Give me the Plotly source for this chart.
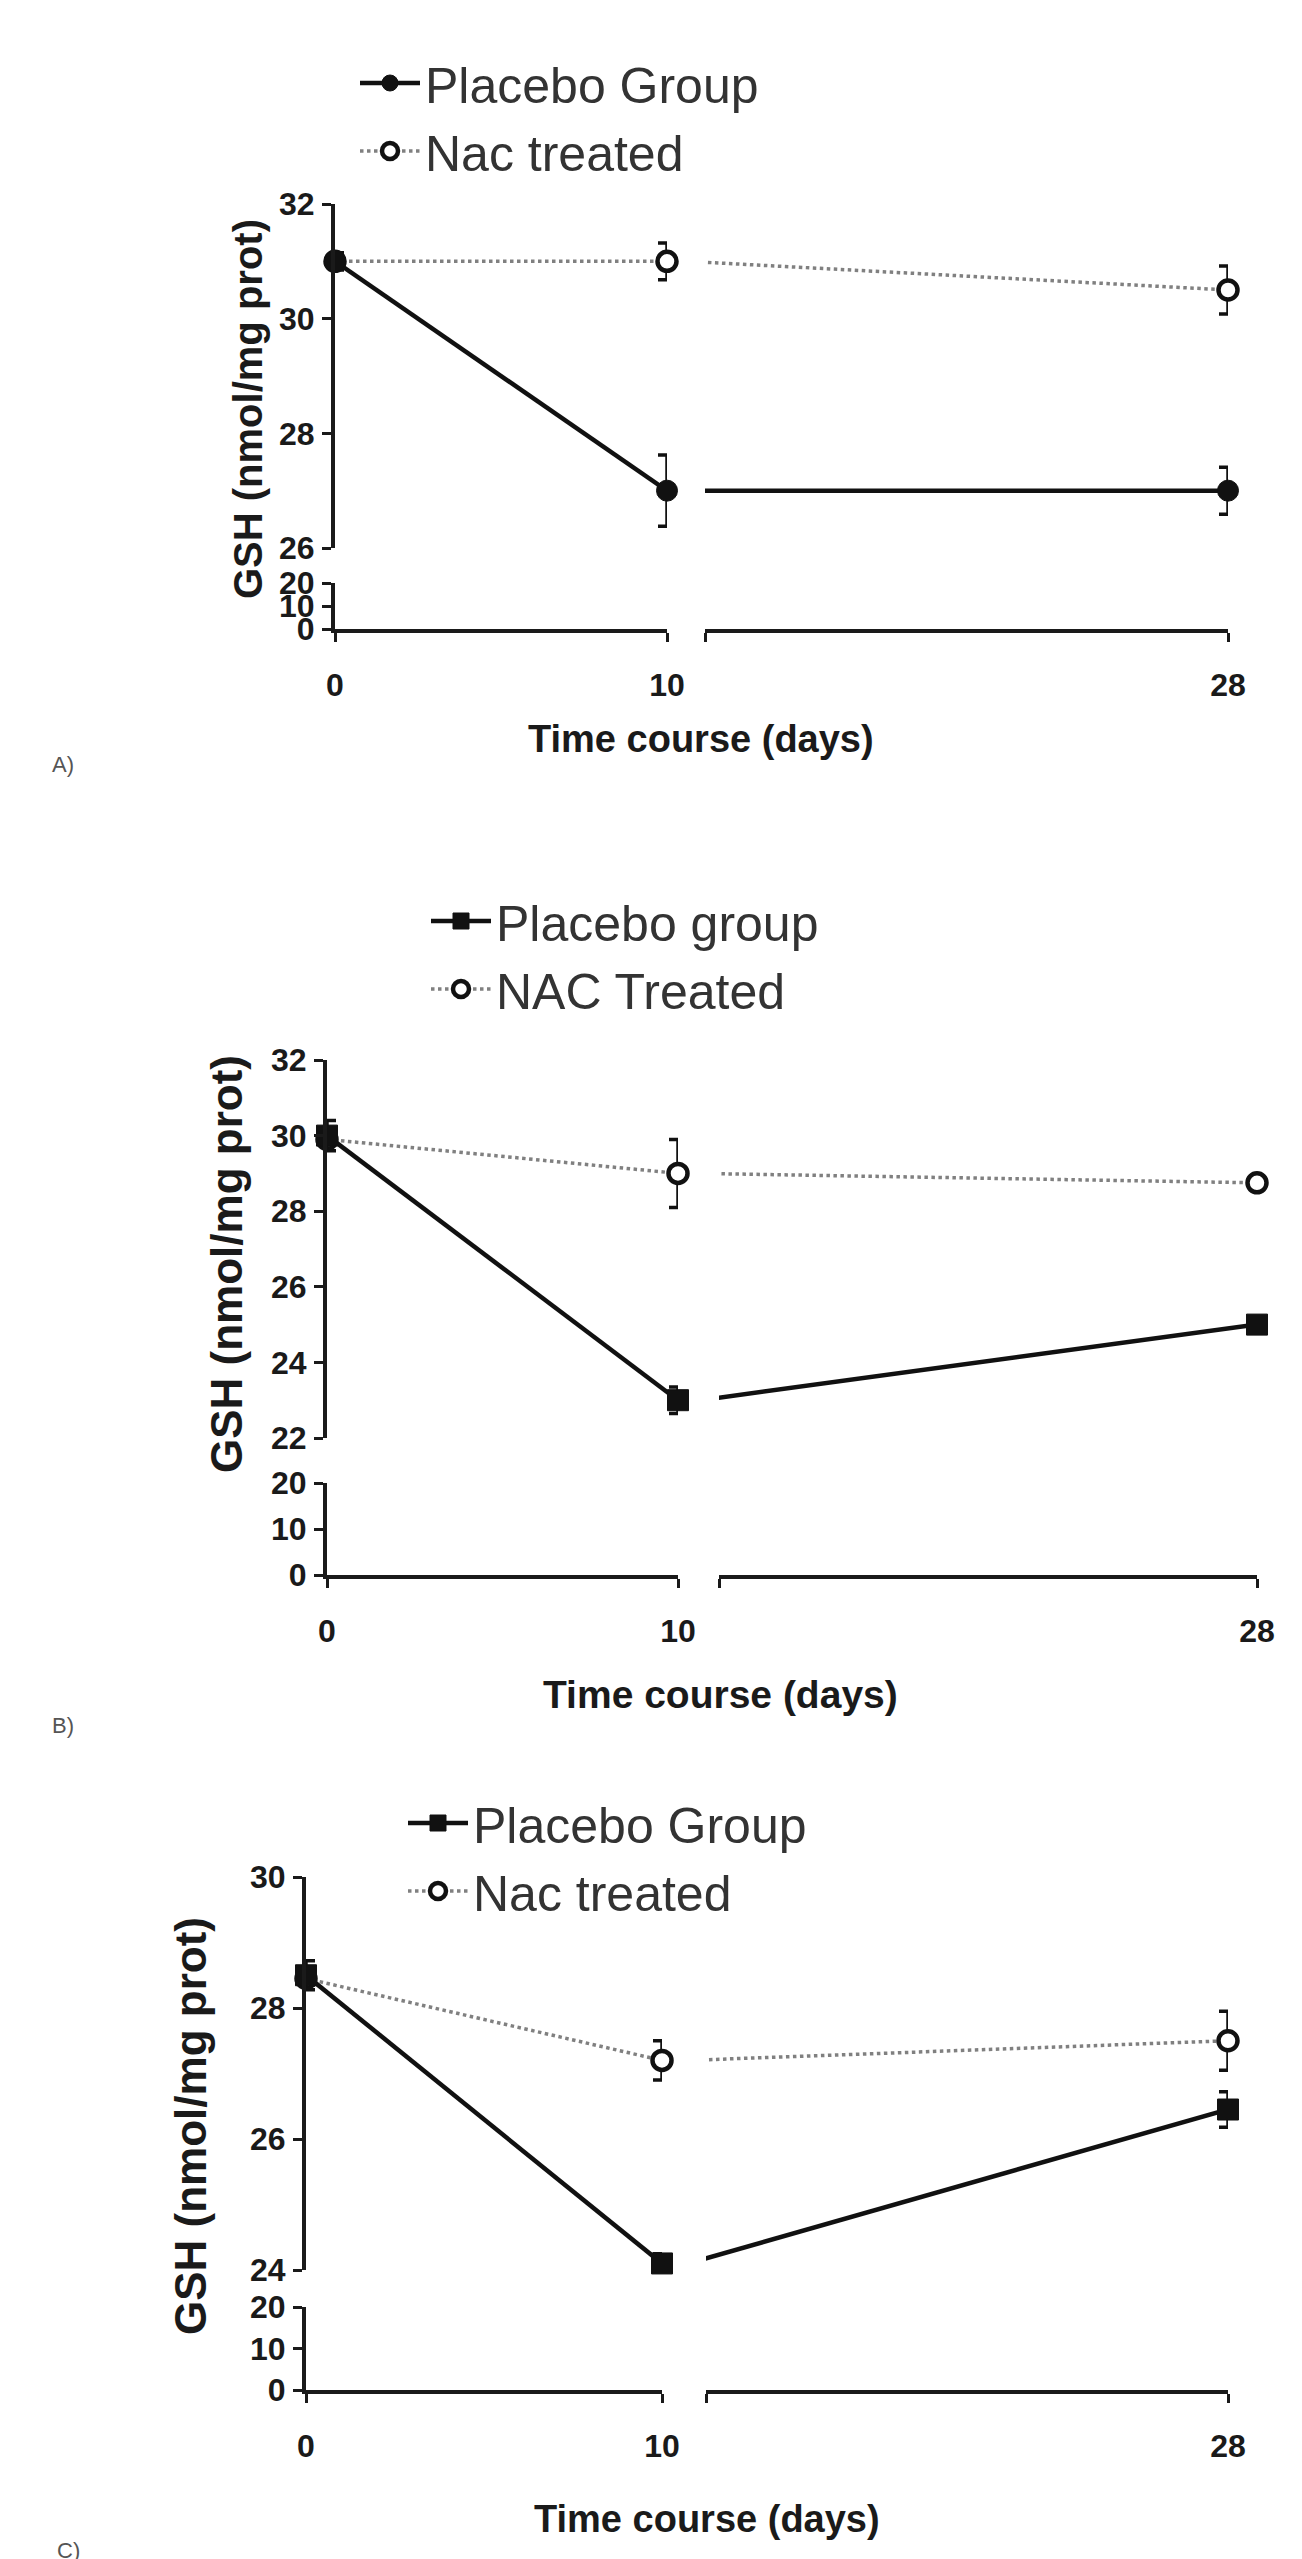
import plotly.graph_objects as go

# ---------------- data ----------------
days = [0, 10, 28]
x_tick_labels = ["0", "10", "28"]

# Panel A
placebo_A = [31.0, 27.0, 27.0]
placebo_A_err = [0.15, 0.62, 0.41]
nac_A = [31.0, 31.0, 30.5]
nac_A_err = [0.10, 0.32, 0.42]

# Panel B
placebo_B = [30.0, 23.0, 25.0]
placebo_B_err = [0.40, 0.35, 0.12]
nac_B = [29.9, 29.0, 28.75]
nac_B_err = [0.10, 0.90, 0.12]

# Panel C
placebo_C = [28.5, 24.1, 26.45]
placebo_C_err = [0.22, 0.15, 0.27]
nac_C = [28.45, 27.2, 27.5]
nac_C_err = [0.10, 0.30, 0.45]

legend_A = ["Placebo Group", "Nac treated"]
legend_B = ["Placebo group", "NAC Treated"]
legend_C = ["Placebo Group", "Nac treated"]

upper_ticks_A = [26, 28, 30, 32]
upper_ticks_B = [22, 24, 26, 28, 30, 32]
upper_ticks_C = [24, 26, 28, 30]
lower_ticks = [0, 10, 20]

x_title = "Time course (days)"
y_title = "GSH (nmol/mg prot)"
panel_letters = ["A)", "B)", "C)"]

# ---------------- layout geometry (pixels) ----------------
W, H = 1302, 2559
FONT = "Liberation Sans, Arial, sans-serif"
INK = "#1a1a1a"

panels = [
    dict(placebo=placebo_A, perr=placebo_A_err, nac=nac_A, nerr=nac_A_err,
         names=legend_A, uticks=upper_ticks_A, psym="circle",
         xl0=327, xl1=659, xr0=697, xr1=1220,
         yu_top=196, yu_bot=540, yl_top=575, yl_bot=621,
         leg_x=347, leg_y=36, xt_x=693, xt_y=731, xt_size=38,
         yt_x=240, yt_y=401, yt_size=40,
         let_x=55, let_y=757),
    dict(placebo=placebo_B, perr=placebo_B_err, nac=nac_B, nerr=nac_B_err,
         names=legend_B, uticks=upper_ticks_B, psym="square",
         xl0=319, xl1=670, xr0=711, xr1=1249,
         yu_top=1052, yu_bot=1430, yl_top=1475, yl_bot=1567,
         leg_x=418, leg_y=874, xt_x=712, xt_y=1686, xt_size=39,
         yt_x=218, yt_y=1256, yt_size=44,
         let_x=55, let_y=1717),
    dict(placebo=placebo_C, perr=placebo_C_err, nac=nac_C, nerr=nac_C_err,
         names=legend_C, uticks=upper_ticks_C, psym="square",
         xl0=298, xl1=654, xr0=698, xr1=1220,
         yu_top=1869, yu_bot=2262, yl_top=2299, yl_bot=2382,
         leg_x=395, leg_y=1776, xt_x=699, xt_y=2511, xt_size=38,
         yt_x=182, yt_y=2118, yt_size=44,
         let_x=60, let_y=2542),
]

RIGHT_START = 10.6  # first value of the right-hand x segment (axis break)


def fx(px):
    return px / W


def fy(py):
    return 1 - py / H


def nm(k, n):
    return k if n == 1 else f"{k}{n}"


fig = go.Figure()
layout = dict(
    width=W, height=H, margin=dict(l=0, r=0, t=0, b=0),
    paper_bgcolor="white", plot_bgcolor="rgba(0,0,0,0)",
    showlegend=True, annotations=[],
)

axis_common = dict(showgrid=False, zeroline=False, showline=True, linecolor=INK,
                   linewidth=4, ticks="outside", ticklen=9, tickwidth=3,
                   tickcolor=INK, automargin=False,
                   tickfont=dict(family=FONT, size=32, color=INK, weight="bold"))

for i, p in enumerate(panels):
    xl, xr = 2 * i + 1, 2 * i + 2
    yu, yl = 2 * i + 1, 2 * i + 2
    legname = "legend" if i == 0 else f"legend{i + 1}"

    umin, umax = p["uticks"][0], p["uticks"][-1]

    layout[nm("xaxis", xl)] = dict(
        axis_common, domain=[fx(p["xl0"]), fx(p["xl1"])], range=[0, 10],
        anchor=nm("y", yl), tickvals=days[:2], ticktext=x_tick_labels[:2],
        ticklabelstandoff=16)
    layout[nm("xaxis", xr)] = dict(
        axis_common, domain=[fx(p["xr0"]), fx(p["xr1"])], range=[RIGHT_START, 28],
        anchor=nm("y", yl), tickvals=[RIGHT_START, days[2]],
        ticktext=["", x_tick_labels[2]], ticklabelstandoff=16)
    layout[nm("yaxis", yu)] = dict(
        axis_common, domain=[fy(p["yu_bot"]), fy(p["yu_top"])], range=[umin, umax],
        anchor=nm("x", xl), tickvals=p["uticks"], ticklabelstandoff=1)
    layout[nm("yaxis", yl)] = dict(
        axis_common, domain=[fy(p["yl_bot"]), fy(p["yl_top"])],
        range=[lower_ticks[0], lower_ticks[-1]],
        anchor=nm("x", xl), tickvals=lower_ticks, ticklabelstandoff=1)

    xa_l, xa_r, ya_u, ya_l = nm("x", xl), nm("x", xr), nm("y", yu), nm("y", yl)

    # invisible helpers so that the lower (0-20) subplots exist and get drawn
    for xa in (xa_l, xa_r):
        fig.add_trace(go.Scatter(
            x=[days[1]], y=[lower_ticks[1]], mode="markers",
            marker=dict(opacity=0, size=1), xaxis=xa, yaxis=ya_l,
            showlegend=False, hoverinfo="skip"))

    nac_line = dict(color="#808080", width=3.5, dash="dot")
    nac_marker = dict(symbol="circle", size=19, color="white",
                      line=dict(color="#111", width=4.5))
    pl_line = dict(color="#111", width=4.5)
    pl_marker = dict(symbol=p["psym"], size=21, color="#111",
                     line=dict(color="#111", width=1))
    err_style = dict(type="data", visible=True, color="#111", thickness=3.5, width=9)

    # NAC treated (drawn first, under placebo)
    fig.add_trace(go.Scatter(
        x=days[:2], y=p["nac"][:2], mode="lines+markers", name=p["names"][1],
        line=nac_line, marker=nac_marker, cliponaxis=False,
        error_y=dict(err_style, array=p["nerr"][:2]),
        xaxis=xa_l, yaxis=ya_u, legend=legname, legendrank=2, showlegend=True))
    fig.add_trace(go.Scatter(
        x=days[1:], y=p["nac"][1:], mode="lines", line=nac_line,
        xaxis=xa_r, yaxis=ya_u, showlegend=False, hoverinfo="skip"))
    fig.add_trace(go.Scatter(
        x=days[2:], y=p["nac"][2:], mode="markers", marker=nac_marker,
        cliponaxis=False, error_y=dict(err_style, array=p["nerr"][2:]),
        xaxis=xa_r, yaxis=ya_u, showlegend=False))

    # Placebo
    fig.add_trace(go.Scatter(
        x=days[:2], y=p["placebo"][:2], mode="lines+markers", name=p["names"][0],
        line=pl_line, marker=pl_marker, cliponaxis=False,
        error_y=dict(err_style, array=p["perr"][:2]),
        xaxis=xa_l, yaxis=ya_u, legend=legname, legendrank=1, showlegend=True))
    fig.add_trace(go.Scatter(
        x=days[1:], y=p["placebo"][1:], mode="lines", line=pl_line,
        xaxis=xa_r, yaxis=ya_u, showlegend=False, hoverinfo="skip"))
    fig.add_trace(go.Scatter(
        x=days[2:], y=p["placebo"][2:], mode="markers", marker=pl_marker,
        cliponaxis=False, error_y=dict(err_style, array=p["perr"][2:]),
        xaxis=xa_r, yaxis=ya_u, showlegend=False))

    layout[legname] = dict(
        x=fx(p["leg_x"]), y=fy(p["leg_y"]), xanchor="left", yanchor="top",
        bgcolor="rgba(0,0,0,0)", borderwidth=0, itemwidth=60,
        font=dict(family=FONT, size=50, color="#333"),
        traceorder="normal", tracegroupgap=0)

    layout["annotations"] += [
        dict(text=f"<b>{x_title}</b>", x=fx(p["xt_x"]), y=fy(p["xt_y"]),
             xref="paper", yref="paper", showarrow=False, xanchor="center",
             yanchor="middle", font=dict(family=FONT, size=p["xt_size"], color=INK)),
        dict(text=f"<b>{y_title}</b>", x=fx(p["yt_x"]), y=fy(p["yt_y"]),
             xref="paper", yref="paper", showarrow=False, xanchor="center",
             yanchor="middle", textangle=-90,
             font=dict(family=FONT, size=p["yt_size"], color=INK)),
        dict(text=panel_letters[i], x=fx(p["let_x"]), y=fy(p["let_y"]),
             xref="paper", yref="paper", showarrow=False, xanchor="center",
             yanchor="middle", font=dict(family=FONT, size=22, color="#555")),
    ]

fig.update_layout(**layout)
fig.write_html("out.html")
